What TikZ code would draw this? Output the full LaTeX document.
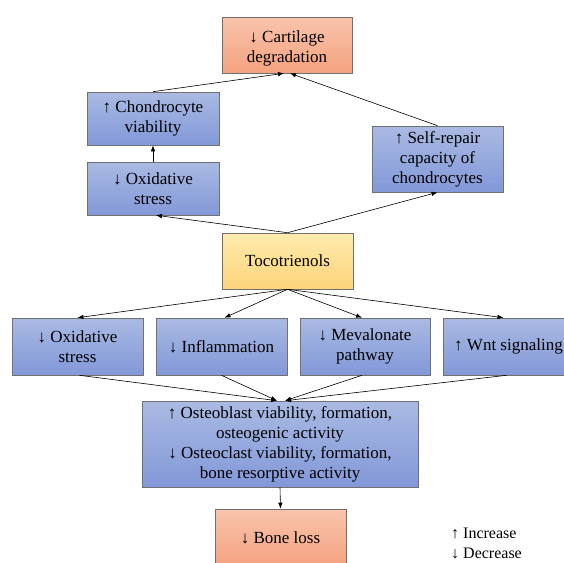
\documentclass[tikz,border=0pt]{standalone}
\usepackage{fontspec}
\setmainfont{Liberation Serif}
\usetikzlibrary{arrows.meta,calc}
\definecolor{bluetop}{HTML}{AABAE3}
\definecolor{bluebot}{HTML}{8298D8}
\definecolor{orgtop}{HTML}{F8C4AC}
\definecolor{orgbot}{HTML}{F4A27F}
\definecolor{yeltop}{HTML}{FEEBAE}
\definecolor{yelbot}{HTML}{FDD47A}
\definecolor{edge}{HTML}{707070}
\tikzset{
  box/.style={draw=edge, line width=0.6pt, align=center, inner sep=2pt,
    font=\fontsize{17}{20}\selectfont},
  bluebox/.style={box, top color=bluetop, bottom color=bluebot},
  orgbox/.style={box, top color=orgtop, bottom color=orgbot},
  yelbox/.style={box, top color=yeltop, bottom color=yelbot},
  arr/.style={line width=0.6pt, -{Latex[length=6pt,width=4.5pt]}},
}
\begin{document}
\begin{tikzpicture}[x=1pt,y=-1pt]
\useasboundingbox (0,0) rectangle (564,562);
\clip (0,0) rectangle (564,562);
\node[orgbox, minimum width=130pt, minimum height=56pt] (cart) at (287,45) {\rule{0pt}{19pt}↓ Cartilage\\degradation};
\node[bluebox, minimum width=132pt, minimum height=53pt] (chond) at (153,118.5) {↑ Chondrocyte\\viability};
\node[bluebox, minimum width=132pt, minimum height=53pt] (oxa) at (153,188.5) {↓ Oxidative\\stress};
\node[bluebox, minimum width=131pt, minimum height=66pt] (self) at (437.5,159) {↑ Self-repair\\capacity of\\chondrocytes};
\node[yelbox, minimum width=131pt, minimum height=56pt] (toco) at (287.5,261) {Tocotrienols};
\node[bluebox, minimum width=131pt, minimum height=57pt] (oxb) at (77.5,346.5) {↓ Oxidative\\stress};
\node[bluebox, minimum width=131pt, minimum height=57pt] (infl) at (221.5,346.5) {↓ Inflammation};
\node[bluebox, minimum width=130pt, minimum height=57pt] (mev) at (365,346.5) {↓ Mevalonate\\pathway};
\node[bluebox, minimum width=131pt, minimum height=57pt] (wnt) at (508.5,346.5) {↑ Wnt signaling};
\node[bluebox, minimum width=276pt, minimum height=86pt] (ost) at (280,444) {↑ Osteoblast viability, formation,\\osteogenic activity\\↓ Osteoclast viability, formation,\\bone resorptive activity};
\node[orgbox, minimum width=131pt, minimum height=58pt] (bone) at (280.5,538) {↓ Bone loss};
\node[anchor=west, align=left, inner sep=0pt, font=\fontsize{16}{20}\selectfont] (leg) at (451,543) {↑ Increase\\↓ Decrease};

\draw[arr] (chond.north) -- ($(cart.south)+(-3,0)$);
\draw[arr] (self.north) -- ($(cart.south)+(3,0)$);
\draw[arr] (oxa.north) -- (chond.south);
\draw[arr] (toco.north) -- ($(oxa.south)+(3,0)$);
\draw[arr] (toco.north) -- (self.south);
\draw[arr] (toco.south) -- (oxb.north);
\draw[arr] (toco.south) -- ($(infl.north)+(3,0)$);
\draw[arr] (toco.south) -- ($(mev.north)+(-3,0)$);
\draw[arr] (toco.south) -- ($(wnt.north)+(-5,0)$);
\draw[arr] ($(oxb.south)+(2,0)$) -- ($(ost.north)+(-3,0)$);
\draw[arr] (infl.south) -- ($(ost.north)+(-3,0)$);
\draw[arr] ($(mev.south)+(-3,0)$) -- ($(ost.north)+(5,0)$);
\draw[arr] ($(wnt.south)+(-2,0)$) -- ($(ost.north)+(5,0)$);
\draw[arr] (ost.south) -- (bone.north);
\end{tikzpicture}
\end{document}
